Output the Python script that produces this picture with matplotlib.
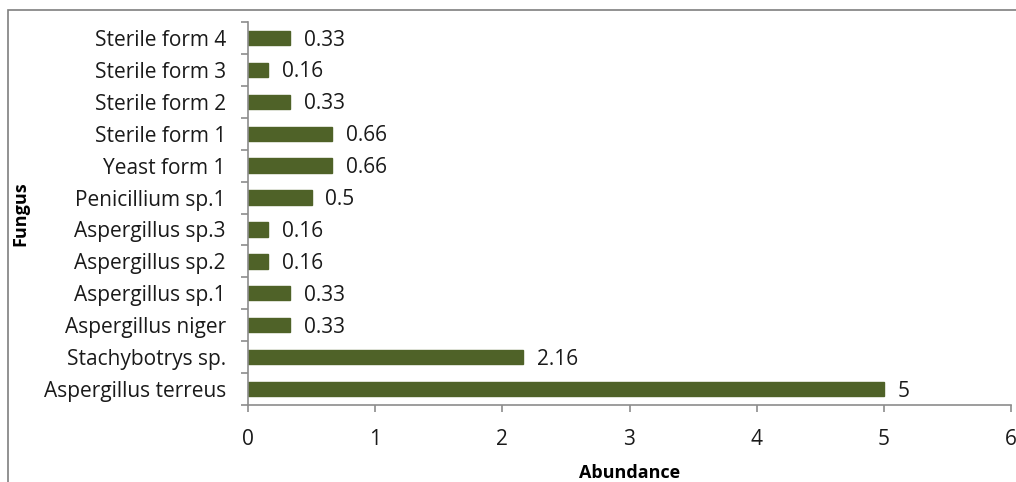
import matplotlib.pyplot as plt
from matplotlib.patches import Rectangle
import numpy as np

fungi = ["Aspergillus terreus", "Stachybotrys sp.", "Aspergillus niger",
         "Aspergillus sp.1", "Aspergillus sp.2", "Aspergillus sp.3",
         "Penicillium sp.1", "Yeast form 1", "Sterile form 1",
         "Sterile form 2", "Sterile form 3", "Sterile form 4"]
abundance = [5, 2.16, 0.33, 0.33, 0.16, 0.16, 0.5, 0.66, 0.66, 0.33, 0.16, 0.33]
value_labels = ["5", "2.16", "0.33", "0.33", "0.16", "0.16", "0.5", "0.66",
                "0.66", "0.33", "0.16", "0.33"]
xticks_ = [0, 1, 2, 3, 4, 5, 6]

plt.rcParams['font.family'] = ['Open Sans', 'DejaVu Sans']
fs = 15

fig = plt.figure(figsize=(10.16, 4.82), dpi=100)
ax = fig.add_axes([248 / 1016, 1 - 405 / 482, (1011 - 248) / 1016, (405 - 22) / 482])

# outer chart frame (partly cropped in the original)
fig.patches.append(Rectangle((8 / 1016, -0.1), 1.2, 1 - 10 / 482 + 0.1,
                             transform=fig.transFigure, fill=False,
                             edgecolor='#7f7f7f', linewidth=1.2))

y = np.arange(len(fungi))
ax.barh(y, abundance, height=0.45, color='#4f6228', edgecolor='#4f6228')
for yi, v, lab in zip(y, abundance, value_labels):
    ax.annotate(lab, (v, yi), xytext=(10, -1.5), textcoords='offset points',
                va='center', ha='left', fontsize=fs, color='#1a1a1a')

ax.set_xlim(0, 6)
ax.set_ylim(-0.5, len(fungi) - 0.5)
ax.set_xticks(xticks_)
ax.set_xticklabels([str(t) for t in xticks_], fontsize=fs, color='#1a1a1a')
ax.set_yticks(y)
ax.set_yticklabels(fungi, fontsize=fs, color='#1a1a1a')
ax.set_yticks(np.arange(-0.5, len(fungi), 1), minor=True)
ax.tick_params(axis='y', which='major', length=0, pad=16)
ax.tick_params(axis='y', which='minor', length=5, color='#8c8c8c', width=1.2)
ax.tick_params(axis='x', length=5, color='#8c8c8c', width=1.2, pad=12)

for side in ['top', 'right']:
    ax.spines[side].set_visible(False)
for side in ['left', 'bottom']:
    ax.spines[side].set_color('#8c8c8c')
    ax.spines[side].set_linewidth(1.2)

ax.set_xlabel("Abundance", fontsize=13, fontweight='bold', labelpad=10)
ax.set_ylabel("Fungus", fontsize=13, fontweight='bold', labelpad=10)

fig.savefig("out.png", dpi=100)
